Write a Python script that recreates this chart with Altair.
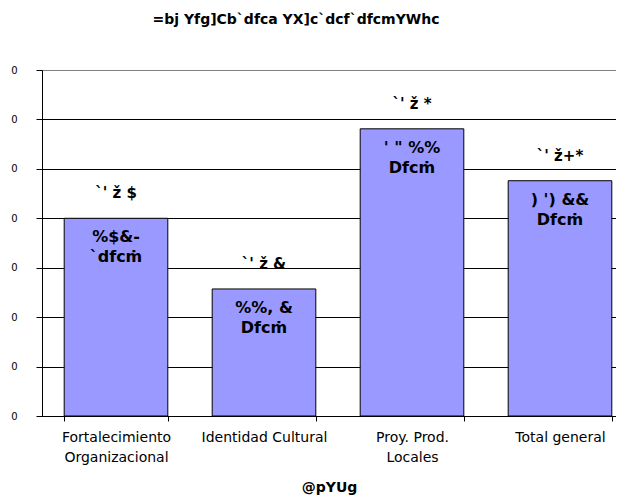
import altair as alt
import pandas as pd

categories = ["Fortalecimiento\nOrganizacional", "Identidad Cultural", "Proy. Prod.\nLocales", "Total general"]
values = [40.0, 25.7, 58.1, 47.6]
top_labels = ["`' ž $", "`' ž &", "`' ž *", "`' ž+*"]
inner_line1 = ["%$&-", "%%, &", "' \" %%", ") ') &&"]
inner_line2 = ["`dfcṁ", "Dfcṁ", "Dfcṁ", "Dfcṁ"]
y_ticks = [0, 10, 20, 30, 40, 50, 60, 70]
title_text = "=bj Yfg]Cb`dfca  YX]c`dcf`dfcmYWhc"
x_title = "@pYUg"

df = pd.DataFrame({
    "cat": categories,
    "value": values,
    "top": top_labels,
    "l1": inner_line1,
    "l2": inner_line2,
})

FONT = "DejaVu Sans"

x_enc = alt.X(
    "cat:N",
    sort=categories,
    scale=alt.Scale(range=[0, 592], paddingInner=0.3, paddingOuter=0.15),
    axis=alt.Axis(
        title=x_title,
        titleFont=FONT, titleFontSize=14, titleFontWeight="bold", titleColor="black",
        titleX=287, titleY=71, titleBaseline="middle",
        labelAngle=0, labelFont=FONT, labelFontSize=14, labelColor="black",
        labelPadding=9, labelLineHeight=20, labelLimit=0,
        labelExpr="split(datum.label, '\\n')",
        tickBand="extent", tickSize=5, tickColor="black",
        domainColor="black", grid=False,
    ),
)

y_enc = alt.Y(
    "value:Q",
    scale=alt.Scale(domain=[0, 70]),
    axis=alt.Axis(
        title=None,
        values=y_ticks,
        labelExpr="slice(datum.label, -1)",
        labelFont=FONT, labelFontSize=10, labelColor="black", labelPadding=19,
        tickSize=6, tickColor="black", domainColor="black",
        grid=True,
        gridColor={"condition": {"test": "datum.value === 70", "value": "#808080"}, "value": "black"},
        gridWidth=1, gridOpacity=1,
    ),
)

base = alt.Chart(df).encode(x=x_enc, y=y_enc)

bars = base.mark_bar(fill="#9999FF", stroke="black", strokeWidth=1)

top_text = base.mark_text(font=FONT, fontSize=15, fontWeight="bold", color="black",
                          baseline="middle", dy=-25).encode(text="top:N")
line1 = base.mark_text(font=FONT, fontSize=16, fontWeight="bold", color="black",
                       baseline="middle", dy=19).encode(text="l1:N")
line2 = base.mark_text(font=FONT, fontSize=16, fontWeight="bold", color="black",
                       baseline="middle", dy=39).encode(text="l2:N")

chart = alt.layer(bars, top_text, line1, line2).properties(
    width=574,
    height=346,
    title=alt.TitleParams(title_text, font=FONT, fontSize=14, fontWeight="bold",
                          color="black", anchor="middle", dx=-33, offset=38),
    autosize=alt.AutoSizeParams(type="none"),
    padding={"left": 34, "top": 62, "right": 0, "bottom": 79},
).configure_view(strokeWidth=0).configure(background="white")

chart.save("out.html", embed_options={"renderer": "svg", "actions": False})
